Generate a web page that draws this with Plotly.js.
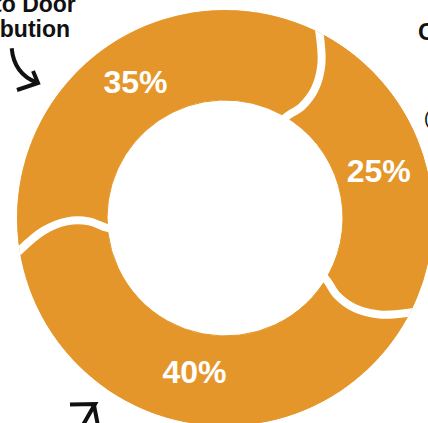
<!DOCTYPE html>
<html>
<head>
<meta charset="utf-8">
<script src="https://cdn.plot.ly/plotly-3.0.1.min.js"></script>
<style>html,body{margin:0;padding:0;overflow:hidden;background:#fff}</style>
</head>
<body>
<div id="chart"></div>
<script>
// ---- data ----
const categories = ['Door to Door Distribution', 'C', 'Other'];
const shares = [35, 25, 40];
const shareLabels = shares.map(v => v + '%');
const titleLines = ['Door to Door', 'Distribution'];

// ---- style ----
const ORANGE = '#E5962A';
const START = -97;            // first slice starts this many degrees clockwise from 12 o'clock
const INNER = 118 / 208;      // hole radius relative to outer radius
const LABEL_R = 160 / 208;
const W = 450, H = 450, ML = 17, MT = 10, SIZE = 416;
const FONT = 'Liberation Sans, Arial, Helvetica, sans-serif';

const px2x = px => (px - ML) / SIZE;
const px2y = py => 1 - (py - MT) / SIZE;
const P = (x, y) => px2x(x) + ',' + px2y(y);

// slice geometry from the data
const thetaStart = [], thetaMid = [], widths = [];
let acc = START;
shares.forEach(v => {
  const w = v / 100 * 360;
  thetaStart.push(acc); thetaMid.push(acc + w / 2); widths.push(w);
  acc += w;
});

const traces = [{
  type: 'barpolar',
  theta: thetaMid,
  width: widths,
  r: shares.map(() => 1 - INNER),
  base: INNER,
  text: categories,
  marker: {color: ORANGE, line: {color: ORANGE, width: 1}},
  hoverinfo: 'skip'
}];

// curved white separators at the end of each slice (rounded-cap look)
const gapProfile = [[0.50, 1.0], [118/208, 2.2], [136/208, 5.6], [158/208, 5.8], [182/208, 3.0], [1.0, -2.0], [1.05, -4.2]];
shares.forEach((v, i) => {
  const end = thetaStart[i] + widths[i];
  traces.push({
    type: 'scatterpolar', mode: 'lines',
    r: gapProfile.map(p => p[0]),
    theta: gapProfile.map(p => end + p[1]),
    line: {color: '#ffffff', width: 8, shape: 'spline', smoothing: 1},
    hoverinfo: 'skip', cliponaxis: false
  });
});

traces.push({
  type: 'scatterpolar', mode: 'text',
  r: shares.map(() => LABEL_R),
  theta: thetaMid,
  text: shareLabels,
  textposition: 'middle center',
  textfont: {color: '#ffffff', size: 32, family: FONT, weight: 700},
  hoverinfo: 'skip', cliponaxis: false
});

const arrowLine = {color: '#111111', width: 4};
const layout = {
  width: W, height: H,
  margin: {l: ML, t: MT, r: W - ML - SIZE, b: H - MT - SIZE, pad: 0},
  paper_bgcolor: '#ffffff',
  showlegend: false,
  polar: {
    domain: {x: [0, 1], y: [0, 1]},
    bgcolor: 'rgba(0,0,0,0)',
    radialaxis: {range: [0, 1], visible: false, showgrid: false, showline: false, showticklabels: false, ticks: ''},
    angularaxis: {rotation: 90, direction: 'clockwise', visible: false, showgrid: false, showline: false, showticklabels: false, ticks: ''}
  },
  annotations: [
    {xref: 'paper', yref: 'paper', x: px2x(5), y: px2y(3.5), xanchor: 'center', yanchor: 'middle',
     text: titleLines[0], showarrow: false,
     font: {size: 23, color: '#111111', family: FONT, weight: 700}},
    {xref: 'paper', yref: 'paper', x: px2x(5), y: px2y(29), xanchor: 'center', yanchor: 'middle',
     text: titleLines[1], showarrow: false,
     font: {size: 23, color: '#111111', family: FONT, weight: 700}},
    {xref: 'paper', yref: 'paper', x: px2x(416), y: px2y(31.5), xanchor: 'left', yanchor: 'middle',
     text: categories[1], showarrow: false,
     font: {size: 24, color: '#111111', family: FONT, weight: 700}},
    {xref: 'paper', yref: 'paper', x: px2x(422), y: px2y(118), xanchor: 'left', yanchor: 'middle',
     text: '(', showarrow: false,
     font: {size: 18, color: '#111111', family: FONT, weight: 400}}
  ],
  shapes: [
    {type: 'path', xref: 'paper', yref: 'paper', path: 'M ' + P(11.7, 48.3) + ' Q ' + P(14, 74) + ' ' + P(37, 82.7), line: arrowLine, fillcolor: 'rgba(0,0,0,0)'},
    {type: 'path', xref: 'paper', yref: 'paper', path: 'M ' + P(17, 90) + ' L ' + P(38, 83) + ' L ' + P(33, 71), line: arrowLine, fillcolor: 'rgba(0,0,0,0)'},
    {type: 'path', xref: 'paper', yref: 'paper', path: 'M ' + P(70, 404.5) + ' L ' + P(95, 404) + ' L ' + P(83, 425), line: arrowLine, fillcolor: 'rgba(0,0,0,0)'},
    {type: 'path', xref: 'paper', yref: 'paper', path: 'M ' + P(94, 405) + ' L ' + P(98, 426), line: arrowLine, fillcolor: 'rgba(0,0,0,0)'}
  ]
};

Plotly.newPlot('chart', traces, layout, {displayModeBar: false, staticPlot: true});
</script>
</body>
</html>
